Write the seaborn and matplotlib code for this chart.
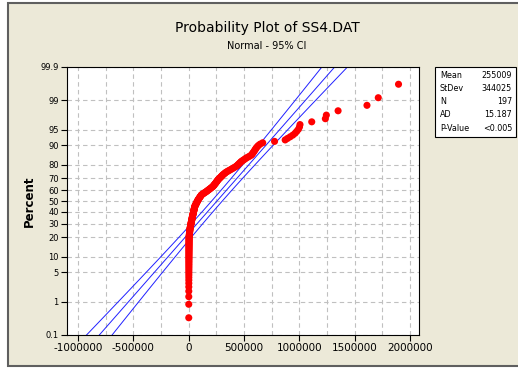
import matplotlib
matplotlib.use("Agg")
import matplotlib.pyplot as plt
import seaborn as sns
import numpy as np
import pandas as pd
from statistics import NormalDist
from matplotlib.patches import Rectangle

# sorted SS4.DAT values (197 points)
values = [
    0, 0, 150, 300, 350, 500, 600, 650, 800, 900,
    950, 1000, 1100, 1200, 1250, 1300, 1400, 1500, 1550, 1600,
    1700, 1800, 1850, 1900, 2000, 2100, 2150, 2200, 2300, 2400,
    2450, 2500, 2550, 2600, 2700, 2750, 2800, 2850, 2900, 2950,
    3500, 4200, 5000, 5600, 6300, 7000, 7800, 8500, 9300, 10000,
    10800, 11700, 12600, 13500, 15000,
    16000, 17200, 18300, 19500, 20600, 21700, 22800, 23900, 25000, 26200,
    27300, 28500, 29600, 30800, 31900, 33000,
    34200, 35400, 36600, 37800, 39000, 40200, 41400, 42600, 43800, 45000,
    46200, 47400, 48600, 49800, 51000, 52000, 53000, 54000,
    56500, 59000, 61500, 64000, 66500, 69000, 71500, 74000, 76500, 79000,
    81500, 84000,
    87000, 90500, 94000, 97500, 101000, 104500, 107500, 111000, 114000,
    121000, 128500, 136000, 143500, 151000, 159000,
    165500, 172000, 179000, 185500, 192000, 199000, 205500, 212000, 219000,
    223000, 227000, 231000, 235500, 240000, 244000, 248000, 252000, 256000,
    260000, 264000,
    269500, 275000, 281000, 286500, 292000, 298000, 303500, 309000,
    317000, 324500, 332000, 340000,
    351000, 362000, 373500, 385000,
    396000, 407500, 419000, 430000,
    437500, 445000, 452500, 460000, 467500, 475000,
    486000, 497500, 509000, 520000,
    535000, 550000, 565000,
    571500, 578000, 584500, 591000, 597500, 604000, 610000,
    620000, 630000, 645000, 668000,
    775000,
    871000, 892000, 916000, 940000, 960000, 975000, 990000, 1000000, 1005000,
    1111000, 1234000, 1243000, 1349000, 1610000, 1712000, 1895000,
]

stat_labels = ["Mean", "StDev", "N", "AD", "P-Value"]
stat_values = ["255009", "344025", "197", "15.187", "<0.005"]
mean_val = 255009
sd_val = 344025
n_val = 197

pct_ticks = [0.1, 1, 5, 10, 20, 30, 40, 50, 60, 70, 80, 90, 95, 99, 99.9]
x_ticks = [-1000000, -500000, 0, 500000, 1000000, 1500000, 2000000]

nd = NormalDist()
n = len(values)
df = pd.DataFrame({
    "x": values,
    "z": [nd.inv_cdf((i + 1 - 0.3) / (n + 0.4)) for i in range(n)],
})

# fitted line and 95% CI bands
zz = np.linspace(-3.6, 3.6, 50)
fit = mean_val + sd_val * zz
half = 1.96 * sd_val * np.sqrt(1 / n_val + zz ** 2 / (2 * n_val))
lines = pd.DataFrame({"z": zz, "fit": fit, "lo": fit - half, "hi": fit + half})

bg = "#ECE9D8"
fig = plt.figure(figsize=(5.18, 3.69), dpi=100)
fig.patch.set_facecolor("white")
fig.patches.append(Rectangle((8 / 518, 3 / 369), 1.2, 363 / 369, transform=fig.transFigure,
                             facecolor=bg, edgecolor="#5f5f5f", linewidth=1.5, zorder=-1))

ax = fig.add_axes([67 / 518, 34 / 369, 352 / 518, 268 / 369])
ax.set_facecolor("white")

for col in ["fit", "lo", "hi"]:
    sns.lineplot(data=lines, x=col, y="z", ax=ax, sort=False, estimator=None,
                 color="#2020FF", linewidth=0.7, zorder=2)
sns.scatterplot(data=df, x="x", y="z", ax=ax, color="#FF0000", s=26,
                edgecolor="none", zorder=3)

ax.set_xlim(-1100000, 2080000)
ax.set_ylim(nd.inv_cdf(0.001), nd.inv_cdf(0.999))
ax.set_xticks(x_ticks)
ax.set_xticklabels([str(t) for t in x_ticks], fontsize=7.5)
ax.set_xticks(np.arange(-750000, 2000001, 500000), minor=True)
ax.tick_params(axis="x", which="minor", length=0)
ax.set_yticks([nd.inv_cdf(p / 100) for p in pct_ticks])
ax.set_yticklabels([f"{p:g}" for p in pct_ticks], fontsize=6)
ax.tick_params(axis="both", which="major", length=4, width=0.8, color="black", pad=2)
ax.grid(True, which="both", linestyle=(0, (4, 3)), color="#c0c0c0", linewidth=0.8)
ax.set_axisbelow(True)
for sp in ax.spines.values():
    sp.set_color("black")
    sp.set_linewidth(0.8)
ax.set_xlabel("")
ax.set_ylabel("Percent", fontsize=8.5, fontweight="bold", labelpad=3)

fig.text(267 / 518, 1 - 28 / 369, "Probability Plot of SS4.DAT", ha="center", va="center",
         fontsize=10, fontweight="medium")
fig.text(267 / 518, 1 - 46 / 369, "Normal - 95% CI", ha="center", va="center", fontsize=7)

# stats box
fig.patches.append(Rectangle((435 / 518, 1 - 137 / 369), 81 / 518, 70 / 369,
                             transform=fig.transFigure, facecolor="white",
                             edgecolor="black", linewidth=0.8))
for k, (lab, val) in enumerate(zip(stat_labels, stat_values)):
    yy = 1 - (75 + 13.3 * k) / 369
    fig.text(440 / 518, yy, lab, ha="left", va="center", fontsize=5.8)
    fig.text(512 / 518, yy, val, ha="right", va="center", fontsize=5.8)

fig.savefig("out.png", dpi=100, facecolor=fig.get_facecolor())
